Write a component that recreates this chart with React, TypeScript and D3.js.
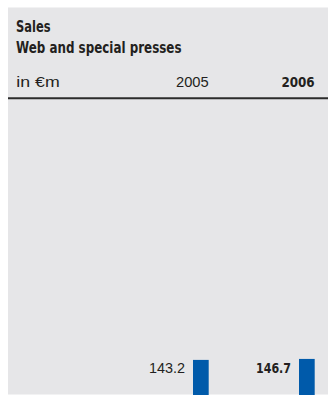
import React from "react";
import * as d3 from "d3";

const title = ["Sales", "Web and special presses"];
const unitLabel = "in €m";
const years = ["2005", "2006"];
const sales = [143.2, 146.7];
const highlight = [false, true];

const W = 329;
const H = 395;
const BG = "#e6e6e8";
const TEXT = "#231f20";
const BLUE = "#005aaa";
const condensed = "'Liberation Sans Narrow', 'DejaVu Sans Condensed', 'Liberation Sans', sans-serif";
const regular = "'Liberation Sans', Arial, sans-serif";

export default function App() {
  const x = d3.scalePoint<string>().domain(years).range([208.7, 314.7]);
  const y = d3.scaleLinear().domain([0, 150]).range([400, 358]);
  const barW = 15.7;

  return (
    <svg
      width={W}
      height={H}
      style={{ position: "fixed", left: 0, top: 0, display: "block" }}
    >
      <rect x={0} y={0} width={W} height={H} fill="#ffffff" />
      <rect x={8} y={7.5} width={320} height={387} fill={BG} />
      <text x={16} y={32} fontFamily={condensed} fontWeight="bold" fontSize={16.5} fill={TEXT}
        textLength={34.5} lengthAdjust="spacingAndGlyphs">{title[0]}</text>
      <text x={16} y={53} fontFamily={condensed} fontWeight="bold" fontSize={16.5} fill={TEXT}
        textLength={165.5} lengthAdjust="spacingAndGlyphs">{title[1]}</text>
      <text x={16.3} y={86.7} fontFamily={regular} fontSize={14.5} fill={TEXT}
        textLength={43.4} lengthAdjust="spacingAndGlyphs">{unitLabel}</text>
      <line x1={8} x2={328} y1={98.3} y2={98.3} stroke="#2b2b2b" strokeWidth={2} />
      {years.map((yr, i) => {
        const right = x(yr) as number;
        const bold = highlight[i];
        return (
          <g key={yr}>
            <text x={right} y={86.7} textAnchor="end" fontFamily={bold ? condensed : regular}
              fontWeight={bold ? "bold" : "normal"} fontSize={14.5} fill={TEXT}
              textLength={bold ? 33.3 : 32.7} lengthAdjust="spacingAndGlyphs">{yr}</text>
            <rect x={right - barW} y={y(sales[i])} width={barW} height={y(0) - y(sales[i])} fill={BLUE} />
            <text x={right - barW - 8} y={373.3} textAnchor="end" fontFamily={bold ? condensed : regular}
              fontWeight={bold ? "bold" : "normal"} fontSize={14.5} fill={TEXT}
              textLength={bold ? 35 : 36} lengthAdjust="spacingAndGlyphs">
              {sales[i].toFixed(1)}
            </text>
          </g>
        );
      })}
    </svg>
  );
}
